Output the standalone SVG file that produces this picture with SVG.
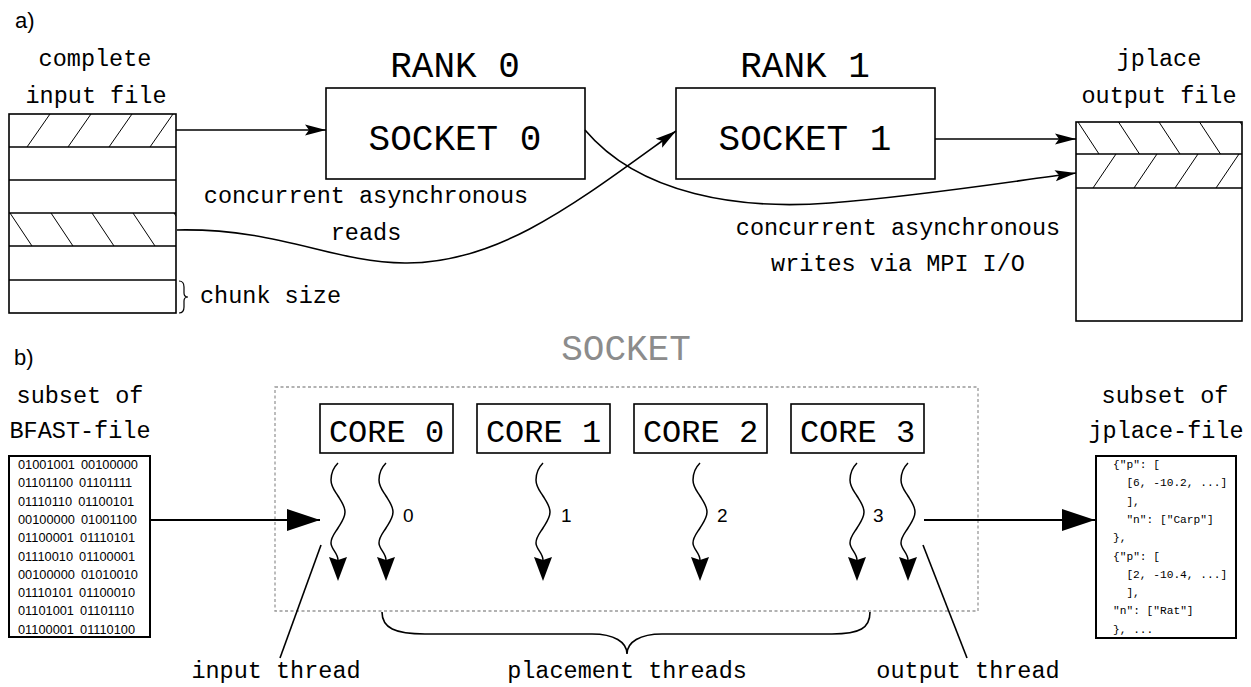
<svg xmlns="http://www.w3.org/2000/svg" width="1251" height="687" viewBox="0 0 1251 687">
<style>
.mono{font-family:"Liberation Mono","DejaVu Sans Mono",monospace;fill:#000}
.sans{font-family:"Liberation Sans",Arial,sans-serif;fill:#000}
.lbl{font-size:23.5px}
.big{font-size:36px}
.core{font-size:32px}
.box{fill:#fff;stroke:#000;stroke-width:1.6}
.hatch{stroke:#000;stroke-width:1}
.line{fill:none;stroke:#000;stroke-width:1.6}
.thick{fill:none;stroke:#000;stroke-width:2.2}
.wave{fill:none;stroke:#000;stroke-width:1.5}
.bin{font-size:12.8px;word-spacing:2.5px}
.json{font-size:11.2px}
</style>
<defs>
<marker id="arr" markerUnits="userSpaceOnUse" markerWidth="24" markerHeight="14" viewBox="0 -7 24 14" refX="21" refY="0" orient="auto">
<path d="M0,-5.5 L21,0 L0,5.5 L4,0 Z" fill="#000"/>
</marker>
<marker id="big" markerUnits="userSpaceOnUse" markerWidth="36" markerHeight="26" viewBox="0 -13 36 26" refX="33" refY="0" orient="auto">
<path d="M0,-11 L33,0 L0,11 Z" fill="#000"/>
</marker>
<marker id="thr" markerUnits="userSpaceOnUse" markerWidth="28" markerHeight="22" viewBox="0 -11 28 22" refX="3" refY="0" orient="auto">
<path d="M0,-9 L24,0 L0,9 L3,0 Z" fill="#000"/>
</marker>
<clipPath id="c1"><rect x="9" y="114" width="167" height="33"/></clipPath>
<clipPath id="c4"><rect x="9" y="213" width="167" height="33"/></clipPath>
<clipPath id="o1"><rect x="1076" y="122" width="166" height="32"/></clipPath>
<clipPath id="o2"><rect x="1076" y="154" width="166" height="34"/></clipPath>
<path id="squig" d="M0,0 C-5,5 -7,11 -7,17 C-7,24 -3,28 0,33 C3,38 7,43 7,49 C7,55 3,60 0,65 C-3,70 -7,74 -7,80 C-7,86 0,90 0,97"/>
</defs>

<text class="sans" x="15" y="28" font-size="22">a)</text>
<text class="sans" x="14" y="365" font-size="22">b)</text>

<g id="input-file">
<text class="mono lbl" x="95" y="66" text-anchor="middle">complete</text>
<text class="mono lbl" x="96" y="103" text-anchor="middle">input file</text>
<rect class="box" x="9" y="114" width="167" height="199"/>
<g class="hatch" clip-path="url(#c1)">
<line x1="-14" y1="147" x2="9" y2="114"/><line x1="27" y1="147" x2="50" y2="114"/><line x1="68" y1="147" x2="91" y2="114"/><line x1="109" y1="147" x2="132" y2="114"/><line x1="150" y1="147" x2="173" y2="114"/>
</g>
<g class="hatch" clip-path="url(#c4)">
<line x1="10" y1="213" x2="32" y2="246"/><line x1="51" y1="213" x2="73" y2="246"/><line x1="92" y1="213" x2="114" y2="246"/><line x1="133" y1="213" x2="155" y2="246"/><line x1="174" y1="213" x2="196" y2="246"/>
</g>
<g class="line">
<line x1="9" y1="147" x2="176" y2="147"/><line x1="9" y1="180" x2="176" y2="180"/><line x1="9" y1="213" x2="176" y2="213"/><line x1="9" y1="246" x2="176" y2="246"/><line x1="9" y1="280" x2="176" y2="280"/>
<path d="M179,281 Q184,281 184,287 L184,293 Q184,297 188,297 Q184,297 184,301 L184,307 Q184,313 179,313" stroke-width="1.2"/>
</g>
<text class="mono lbl" x="200" y="303">chunk size</text>
</g>

<g id="rank0">
<text class="mono big" x="455" y="77" text-anchor="middle">RANK 0</text>
<rect class="box" x="326" y="88" width="259" height="91"/>
<text class="mono big" x="455" y="150" text-anchor="middle">SOCKET 0</text>
</g>

<g id="rank1">
<text class="mono big" x="805" y="77" text-anchor="middle">RANK 1</text>
<rect class="box" x="676" y="88" width="259" height="91"/>
<text class="mono big" x="805" y="150" text-anchor="middle">SOCKET 1</text>
</g>

<g id="output-file">
<text class="mono lbl" x="1159" y="66" text-anchor="middle">jplace</text>
<text class="mono lbl" x="1159" y="103" text-anchor="middle">output file</text>
<rect class="box" x="1076" y="122" width="166" height="199"/>
<g class="hatch" clip-path="url(#o1)">
<line x1="1078" y1="122" x2="1099" y2="154"/><line x1="1118.5" y1="122" x2="1139.5" y2="154"/><line x1="1159" y1="122" x2="1180" y2="154"/><line x1="1199.5" y1="122" x2="1220.5" y2="154"/><line x1="1240" y1="122" x2="1261" y2="154"/>
</g>
<g class="hatch" clip-path="url(#o2)">
<line x1="1093" y1="188" x2="1116" y2="154"/><line x1="1134" y1="188" x2="1157" y2="154"/><line x1="1175" y1="188" x2="1198" y2="154"/><line x1="1216" y1="188" x2="1239" y2="154"/>
</g>
<g class="line">
<line x1="1076" y1="154" x2="1242" y2="154"/><line x1="1076" y1="188" x2="1242" y2="188"/>
</g>
</g>

<g id="labels-a">
<text class="mono lbl" x="366" y="203" text-anchor="middle">concurrent asynchronous</text>
<text class="mono lbl" x="366" y="240" text-anchor="middle">reads</text>
<text class="mono lbl" x="898" y="235" text-anchor="middle">concurrent asynchronous</text>
<text class="mono lbl" x="898" y="271" text-anchor="middle">writes via MPI I/O</text>
</g>

<g id="connectors-a">
<line class="line" x1="176" y1="130" x2="326" y2="130" marker-end="url(#arr)"/>
<path class="line" d="M177,230 C280,228 330,262 405,263 C500,264 580,200 676,131" marker-end="url(#arr)"/>
<path class="line" d="M585,130 C640,195 740,210 830,203 C920,196 1000,183 1076,173" marker-end="url(#arr)"/>
<line class="line" x1="935" y1="139" x2="1076" y2="139" marker-end="url(#arr)"/>
</g>

<g id="socket">
<rect x="275" y="387" width="703" height="224" fill="none" stroke="#999" stroke-width="1.3" stroke-dasharray="3,2.5"/>
<text class="mono big" x="626" y="360" text-anchor="middle" style="fill:#8c8c8c">SOCKET</text>
</g>

<g id="core0"><rect class="box" x="320" y="404" width="133" height="49"/><text class="mono core" x="386.5" y="442" text-anchor="middle">CORE 0</text></g>
<g id="core1"><rect class="box" x="477" y="404" width="133" height="49"/><text class="mono core" x="543.5" y="442" text-anchor="middle">CORE 1</text></g>
<g id="core2"><rect class="box" x="634" y="404" width="133" height="49"/><text class="mono core" x="700.5" y="442" text-anchor="middle">CORE 2</text></g>
<g id="core3"><rect class="box" x="791" y="404" width="133" height="49"/><text class="mono core" x="857.5" y="442" text-anchor="middle">CORE 3</text></g>

<g id="threads">
<use href="#squig" class="wave" x="338" y="463" marker-end="url(#thr)"/>
<use href="#squig" class="wave" x="386" y="463" marker-end="url(#thr)"/>
<use href="#squig" class="wave" x="543" y="463" marker-end="url(#thr)"/>
<use href="#squig" class="wave" x="700" y="463" marker-end="url(#thr)"/>
<use href="#squig" class="wave" x="857" y="463" marker-end="url(#thr)"/>
<use href="#squig" class="wave" x="908" y="463" marker-end="url(#thr)"/>
<text class="sans" font-size="19" x="403" y="522">0</text>
<text class="sans" font-size="19" x="561" y="522">1</text>
<text class="sans" font-size="19" x="717" y="522">2</text>
<text class="sans" font-size="19" x="873" y="522">3</text>
</g>

<g id="bfast-file">
<text class="mono lbl" x="80" y="403" text-anchor="middle">subset of</text>
<text class="mono lbl" x="80" y="438" text-anchor="middle">BFAST-file</text>
<rect x="9" y="456" width="141" height="181" fill="#fff" stroke="#000" stroke-width="2"/>
<g class="sans bin">
<text x="18" y="469">01001001 00100000</text>
<text x="18" y="487.3">01101100 01101111</text>
<text x="18" y="505.6">01110110 01100101</text>
<text x="18" y="523.9">00100000 01001100</text>
<text x="18" y="542.2">01100001 01110101</text>
<text x="18" y="560.5">01110010 01100001</text>
<text x="18" y="578.8">00100000 01010010</text>
<text x="18" y="597.1">01110101 01100010</text>
<text x="18" y="615.4">01101001 01101110</text>
<text x="18" y="633.7">01100001 01110100</text>
</g>
</g>

<g id="jplace-file">
<text class="mono lbl" x="1165" y="403" text-anchor="middle">subset of</text>
<text class="mono lbl" x="1166" y="438" text-anchor="middle">jplace-file</text>
<rect x="1096" y="456" width="140" height="182" fill="#fff" stroke="#000" stroke-width="2"/>
<g class="mono json">
<text x="1113" y="468">{"p": [</text>
<text x="1126.4" y="486.3">[6, -10.2, ...]</text>
<text x="1126.4" y="504.6">],</text>
<text x="1126.4" y="522.9">"n": ["Carp"]</text>
<text x="1113" y="541.2">},</text>
<text x="1113" y="559.5">{"p": [</text>
<text x="1126.4" y="577.8">[2, -10.4, ...]</text>
<text x="1126.4" y="596.1">],</text>
<text x="1113" y="614.4">"n": ["Rat"]</text>
<text x="1113" y="632.7">}, ...</text>
</g>
</g>

<g id="connectors-b">
<line class="thick" x1="150" y1="520" x2="320" y2="520" marker-end="url(#big)"/>
<line class="thick" x1="924" y1="520" x2="1095" y2="520" marker-end="url(#big)"/>
<line class="line" x1="321" y1="545" x2="280" y2="658" stroke-width="1.4"/>
<line class="line" x1="923" y1="545" x2="967" y2="658" stroke-width="1.4"/>
<path class="line" d="M382,612 C382,628 395,634 425,634 L592,634 C614,634 627,642 627,654 C627,642 640,634 662,634 L832,634 C860,634 870,628 870,612" stroke-width="1.5"/>
</g>

<g id="labels-b">
<text class="mono lbl" x="276" y="678" text-anchor="middle">input thread</text>
<text class="mono lbl" x="627" y="678" text-anchor="middle">placement threads</text>
<text class="mono lbl" x="968" y="678" text-anchor="middle">output thread</text>
</g>
</svg>
